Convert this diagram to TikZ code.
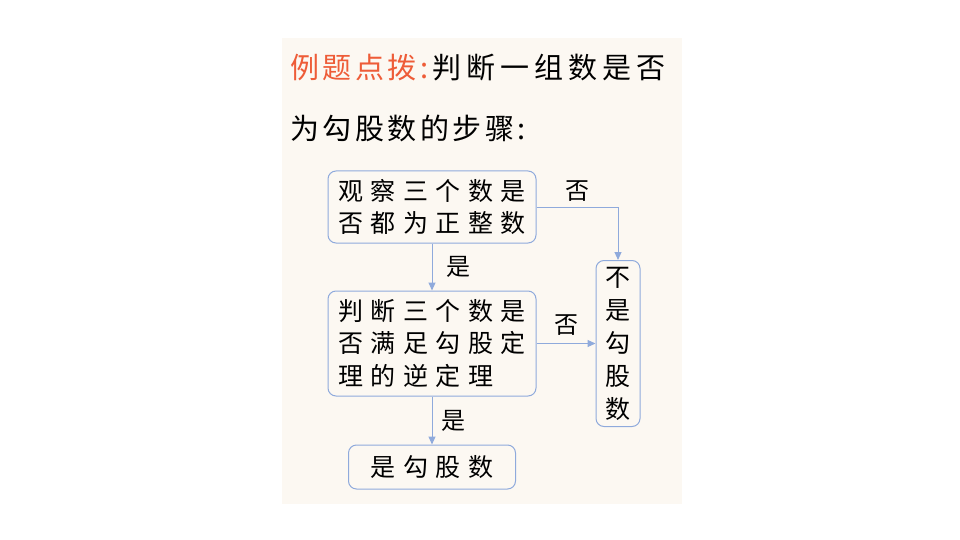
\documentclass[tikz,border=0pt]{standalone}
\usepackage{fontspec}
\newfontfamily\cjk{Noto Sans CJK SC}
\newfontfamily\cjktitle[LetterSpace=12]{Noto Sans CJK SC}
\newfontfamily\cjkbox[LetterSpace=30]{Noto Sans CJK SC}
\usetikzlibrary{arrows.meta, positioning}
\definecolor{panelbg}{RGB}{252,248,242}
\definecolor{flowblue}{RGB}{143,170,220}
\definecolor{titleorange}{RGB}{238,92,56}

\begin{document}
\begin{tikzpicture}[
      x=1pt, y=-1pt,
      node distance=48pt and 59pt,
      stepbox/.style={rectangle, rounded corners=8pt, draw=flowblue, line width=1pt,
                      fill=panelbg, align=center, inner sep=0pt,
                      font=\cjkbox\fontsize{25}{32.5}\selectfont},
      title/.style={anchor=west, inner sep=0pt, font=\cjktitle\fontsize{29}{29}\selectfont},
      lbl/.style={inner sep=0pt, font=\cjk\fontsize{24}{24}\selectfont},
      arrow/.style={-{Triangle[length=8pt, width=7pt]}, draw=flowblue, line width=1pt}
    ]
    \useasboundingbox (0,0) rectangle (960,540);
    \fill[panelbg] (282,38) rectangle (682,504);

    \node[title] (title1) at (290,68) {\textcolor{titleorange}{例题点拨\hspace{4pt}:}\hspace{4pt}{\addfontfeature{LetterSpace=17}判断一组数是否}};
    \node[title] (title2) at (290,128) {为勾股数的步骤:};

    \node[stepbox, minimum width=208pt, minimum height=72pt] (observe) at (432,207) {观察三个数是\\否都为正整数};
    \node[stepbox, minimum width=208pt, minimum height=105pt, align=left, below=47pt of observe] (judge) {判断三个数是\\否满足勾股定\\理的逆定理};
    \node[stepbox, minimum width=44pt, minimum height=166pt, right=of judge,
          font=\cjk\fontsize{25}{33}\selectfont] (notgg) {不\\是\\勾\\股\\数};
    \node[stepbox, minimum width=167pt, minimum height=44pt, below=48pt of judge] (isgg) {是勾股数};

    \draw[arrow] (observe) -- node[lbl, right=14pt]{是} (judge);
    \draw[arrow] (observe.east) -| node[lbl, above=5pt, pos=0.25]{否} (notgg.north);
    \draw[arrow] (judge.east) -- node[lbl, above=8pt]{否} (judge.east -| notgg.west);
    \draw[arrow] (judge) -- node[lbl, right=9pt]{是} (isgg);
\end{tikzpicture}
\end{document}
